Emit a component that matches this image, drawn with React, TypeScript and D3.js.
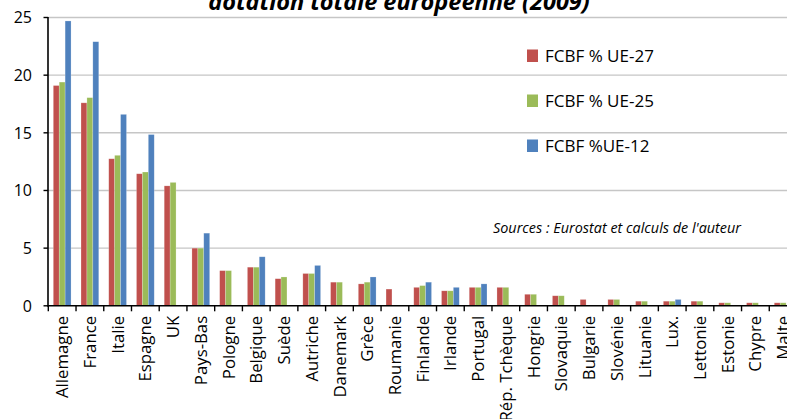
import React from "react";
import * as d3 from "d3";

const categories = [
  "Allemagne", "France", "Italie", "Espagne", "UK", "Pays-Bas", "Pologne", "Belgique",
  "Suède", "Autriche", "Danemark", "Grèce", "Roumanie", "Finlande", "Irlande", "Portugal",
  "Rép. Tchèque", "Hongrie", "Slovaquie", "Bulgarie", "Slovénie", "Lituanie", "Lux.",
  "Lettonie", "Estonie", "Chypre", "Malte",
];

const ue27: (number | null)[] = [
  19.1, 17.6, 12.75, 11.45, 10.4, 5.0, 3.05, 3.35, 2.35, 2.8, 2.05, 1.9, 1.45, 1.6,
  1.3, 1.6, 1.6, 1.0, 0.87, 0.55, 0.55, 0.4, 0.4, 0.4, 0.26, 0.26, 0.26,
];
const ue25: (number | null)[] = [
  19.4, 18.05, 13.05, 11.6, 10.7, 5.0, 3.05, 3.35, 2.5, 2.8, 2.05, 2.05, null, 1.75,
  1.3, 1.6, 1.6, 1.0, 0.87, null, 0.55, 0.4, 0.4, 0.4, 0.26, 0.26, 0.26,
];
const ue12: (number | null)[] = [
  24.7, 22.9, 16.6, 14.85, null, 6.3, null, 4.25, null, 3.5, null, 2.5, null, 2.05,
  1.6, 1.9, null, null, null, null, null, null, 0.55, null, null, null, null,
];

const seriesNames = ["FCBF % UE-27", "FCBF % UE-25", "FCBF %UE-12"];
const seriesColors = ["#C0504D", "#9BBB59", "#4F81BD"];
const yTicks = [0, 5, 10, 15, 20, 25];

const titleText = "dotation totale européenne  (2009)";
const sourceText = "Sources : Eurostat et calculs de l'auteur";

const W = 787;
const H = 419;
const FONT = "'Open Sans', 'DejaVu Sans', sans-serif";

export default function App() {
  const series = [ue27, ue25, ue12];
  const x = d3.scaleBand<string>().domain(categories).range([48.3, 797]).paddingInner(0).paddingOuter(0);
  const y = d3.scaleLinear().domain([0, 25]).range([305.8, 17.5]);
  const step = x.bandwidth();
  const inner = d3
    .scaleBand<number>()
    .domain([0, 1, 2])
    .range([step * 0.18, step * 0.82])
    .padding(0);

  return (
    <svg
      width={W}
      height={H}
      viewBox={`0 0 ${W} ${H}`}
      style={{ position: "absolute", left: 0, top: 0, background: "#fff" }}
      fontFamily={FONT}
    >
      {/* title (second line of a clipped title) */}
      <text x={399} y={9.5} textAnchor="middle" fontSize={23.5} fontWeight="bold" fontStyle="italic" fill="#000">
        {titleText}
      </text>

      {/* gridlines */}
      {yTicks.filter((t) => t > 0).map((t) => (
        <line key={t} x1={48} x2={W} y1={y(t)} y2={y(t)} stroke="#C6C6C6" strokeWidth={1.4} />
      ))}

      {/* bars */}
      {categories.map((c, i) => (
        <g key={c} transform={`translate(${x(c)},0)`}>
          {series.map((s, k) => {
            const v = s[i];
            if (v == null) return null;
            return (
              <rect
                key={k}
                x={inner(k)}
                y={y(v)}
                width={inner.bandwidth()}
                height={y(0) - y(v)}
                fill={seriesColors[k]}
                stroke="#ffffff"
                strokeOpacity={0.35}
                strokeWidth={0.6}
              />
            );
          })}
        </g>
      ))}

      {/* y axis */}
      <line x1={48} x2={48} y1={y(25) - 0.5} y2={y(0) + 0.8} stroke="#000" strokeWidth={1.6} />
      {yTicks.map((t) => (
        <g key={t}>
          <line x1={43.5} x2={48} y1={y(t)} y2={y(t)} stroke="#000" strokeWidth={1.4} />
          <text x={32} y={y(t)} dy="0.36em" textAnchor="end" fontSize={16} fill="#000">
            {t}
          </text>
        </g>
      ))}

      {/* x axis */}
      <line x1={47.2} x2={W} y1={y(0)} y2={y(0)} stroke="#000" strokeWidth={1.6} />
      {categories.map((c) => (
        <line key={c} x1={x(c)!} x2={x(c)!} y1={y(0)} y2={y(0) + 5.5} stroke="#000" strokeWidth={1.4} />
      ))}
      {categories.map((c) => {
        const cx = x(c)! + step / 2;
        return (
          <text
            key={c}
            transform={`translate(${cx},${y(0) + 10}) rotate(-90)`}
            textAnchor="end"
            dy="0.36em"
            fontSize={16.8}
            fill="#000"
          >
            {c}
          </text>
        );
      })}

      {/* legend */}
      {seriesNames.map((n, k) => (
        <g key={n} transform={`translate(527,${49.5 + k * 45})`}>
          <rect x={0} y={0} width={11} height={12.5} fill={seriesColors[k]} />
          <text x={18} y={12} fontSize={17} fill="#000">
            {n}
          </text>
        </g>
      ))}

      {/* source */}
      <text x={493} y={233} fontSize={14.4} fontStyle="italic" fill="#000">
        {sourceText}
      </text>
    </svg>
  );
}
